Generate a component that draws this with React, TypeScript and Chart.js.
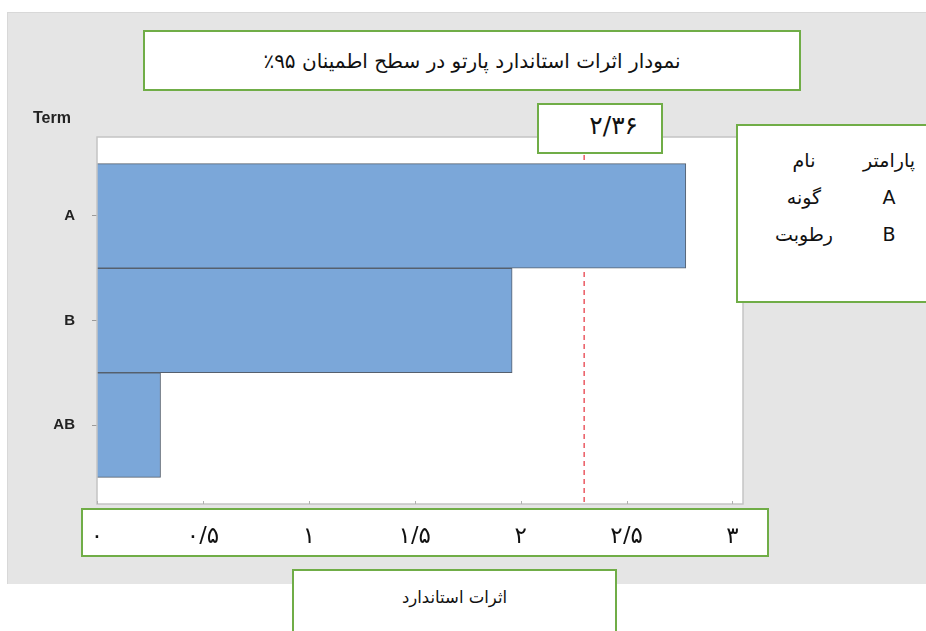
import React, { useEffect, useRef } from "react";
import { Chart, registerables } from "chart.js";

Chart.register(...registerables);

// ---- data ----
const terms = ["A", "B", "AB"];
const effects = [2.78, 1.96, 0.3];
const refLine = 2.3;
const refLabel = "۲/۳۶";
const xTickValues = [0, 0.5, 1, 1.5, 2, 2.5, 3];
const xTickLabels = ["۰", "۰/۵", "۱", "۱/۵", "۲", "۲/۵", "۳"];
const titleText = "نمودار اثرات استاندارد پارتو در سطح اطمینان ۹۵٪";
const xTitleText = "اثرات استاندارد";
const yTitleText = "Term";
const legendHeader = ["پارامتر", "نام"];
const legendParams = ["A", "B"];
const legendNames = ["گونه", "رطوبت"];

const GREEN = "#70ad47";
const PERSIAN = "'DejaVu Sans', sans-serif";

const plotPlugin = {
  id: "plotDecor",
  beforeDraw(chart: any) {
    const { ctx, chartArea: a } = chart;
    ctx.save();
    ctx.fillStyle = "#ffffff";
    ctx.fillRect(a.left, a.top, a.right - a.left, a.bottom - a.top);
    ctx.restore();
  },
  beforeDatasetsDraw(chart: any) {
    const { ctx, chartArea: a, scales } = chart;
    const x = scales.x.getPixelForValue(refLine);
    ctx.save();
    ctx.strokeStyle = "#e8404a";
    ctx.lineWidth = 1.3;
    ctx.setLineDash([5, 4]);
    ctx.beginPath();
    ctx.moveTo(x, a.top);
    ctx.lineTo(x, a.bottom);
    ctx.stroke();
    ctx.restore();
  },
  afterDatasetsDraw(chart: any) {
    const { ctx, chartArea: a, scales } = chart;
    ctx.save();
    ctx.strokeStyle = "#c4c4c4";
    ctx.lineWidth = 1.5;
    ctx.strokeRect(a.left, a.top, a.right - a.left, a.bottom - a.top);
    ctx.strokeStyle = "#b0b0b0";
    ctx.lineWidth = 1;
    xTickValues.forEach((v) => {
      const px = Math.round(scales.x.getPixelForValue(v)) + 0.5;
      ctx.beginPath();
      ctx.moveTo(px, a.bottom - 3);
      ctx.lineTo(px, a.bottom);
      ctx.stroke();
    });
    ctx.restore();
  },
};

function Box(props: { left: number; top: number; width: number; height: number; children?: any; style?: any }) {
  return (
    <div
      style={{
        position: "absolute",
        left: props.left,
        top: props.top,
        width: props.width,
        height: props.height,
        boxSizing: "border-box",
        border: `2.5px solid ${GREEN}`,
        background: "#ffffff",
        ...(props.style || {}),
      }}
    >
      {props.children}
    </div>
  );
}

export default function App() {
  const canvasRef = useRef<HTMLCanvasElement | null>(null);

  useEffect(() => {
    const canvas = canvasRef.current;
    if (!canvas) return;
    const chart = new Chart(canvas, {
      type: "bar",
      data: {
        datasets: [
          {
            data: terms.map((t, i) => ({ x: effects[i], y: i })) as any,
            backgroundColor: "#7ba7d9",
            borderColor: "#56606e",
            borderWidth: 1,
            barPercentage: 1,
            categoryPercentage: 1,
          },
        ],
      },
      options: {
        indexAxis: "y",
        animation: false,
        responsive: false,
        maintainAspectRatio: false,
        layout: { padding: { left: 37, top: 137, right: 183, bottom: 87 } },
        plugins: { legend: { display: false }, tooltip: { enabled: false }, title: { display: false } },
        scales: {
          x: {
            type: "linear",
            position: "bottom",
            min: 0,
            max: 3.05,
            offset: false,
            afterBuildTicks: (ax: any) => {
              ax.ticks = xTickValues.map((v) => ({ value: v }));
            },
            afterFit: (s: any) => {
              s.height = 40;
            },
            ticks: {
              callback: (v: any) => {
                const i = xTickValues.indexOf(Number(v));
                return i >= 0 ? xTickLabels[i] : "";
              },
              padding: 11,
              autoSkip: false,
              maxRotation: 0,
              color: "#111111",
              font: { family: PERSIAN, size: 23 },
            },
            grid: { display: false },
            border: { display: false },
          },
          y: {
            type: "linear",
            reverse: true,
            min: -0.755,
            max: 2.755,
            offset: false,
            afterBuildTicks: (ax: any) => {
              ax.ticks = terms.map((_, i) => ({ value: i }));
            },
            afterFit: (s: any) => {
              s.width = 60;
            },
            ticks: {
              callback: (v: any) => terms[Math.round(Number(v))] ?? "",
              padding: 17,
              autoSkip: false,
              color: "#222222",
              font: { family: "'Liberation Sans', Arial, sans-serif", size: 15, weight: "bold" },
            },
            grid: { offset: false, drawOnChartArea: false, drawTicks: true, tickLength: 5, color: "#9a9a9a" },
            border: { display: false },
          },
        },
      } as any,
      plugins: [plotPlugin],
    });
    return () => chart.destroy();
  }, []);

  const persianText = { fontFamily: PERSIAN, color: "#111111", direction: "rtl" as const };

  return (
    <div style={{ position: "absolute", left: 0, top: 0, width: 926, height: 631, overflow: "hidden", background: "#ffffff" }}>
      <div style={{ position: "absolute", left: 7, top: 12, width: 925, height: 571, background: "#e5e5e5", borderTop: "1px solid #d8d8d8", borderLeft: "1px solid #d8d8d8" }} />
      <Box left={81} top={508} width={688} height={49} />
      <canvas ref={canvasRef} width={926} height={631} style={{ position: "absolute", left: 0, top: 0, display: "block" }} />
      <div style={{ position: "absolute", left: 33, top: 109, fontFamily: "'Liberation Sans', Arial, sans-serif", fontWeight: "bold", fontSize: 16, color: "#222" }}>
        {yTitleText}
      </div>
      <Box left={143} top={30} width={658} height={61} style={{ display: "flex", alignItems: "center", justifyContent: "center" }}>
        <span style={{ ...persianText, fontSize: 20 }}>{titleText}</span>
      </Box>
      <Box left={537} top={103} width={126} height={51} style={{ display: "flex", alignItems: "center", justifyContent: "flex-end", paddingRight: 23 }}>
        <span style={{ fontFamily: PERSIAN, color: "#111", fontSize: 25, direction: "ltr", marginTop: -6 }}>{refLabel}</span>
      </Box>
      <Box left={736} top={124} width={200} height={179}>
        <div style={{ position: "absolute", left: 0, top: 0, width: "100%", height: "100%" }}>
          {[legendHeader, ...legendParams.map((p, i) => [p, legendNames[i]])].map((row, r) => (
            <React.Fragment key={r}>
              <div style={{ position: "absolute", left: 151 - 60, width: 120, top: 23 + r * 37, textAlign: "center", fontSize: 19, ...persianText, direction: r === 0 ? "rtl" : "ltr" }}>
                {row[0]}
              </div>
              <div style={{ position: "absolute", left: 66 - 60, width: 120, top: 23 + r * 37, textAlign: "center", fontSize: 19, ...persianText }}>
                {row[1]}
              </div>
            </React.Fragment>
          ))}
        </div>
      </Box>
      <Box left={292} top={569} width={325} height={80} style={{ textAlign: "center" }}>
        <div style={{ ...persianText, fontSize: 16.5, marginTop: 17 }}>{xTitleText}</div>
      </Box>
    </div>
  );
}
